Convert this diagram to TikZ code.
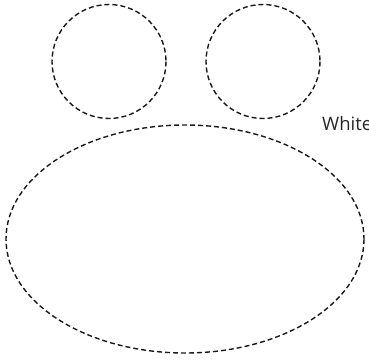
\documentclass[tikz,border=0pt]{standalone}
\usepackage{fontspec}
\setmainfont{Open Sans}
\usetikzlibrary{positioning}

\begin{document}
\begin{tikzpicture}[x=1pt, y=-1pt]
  % outline style
  \tikzset{dashline/.style={draw=black!90, line width=1.4pt, dash pattern=on 5pt off 3pt}}
  \useasboundingbox (0,0) rectangle (369,361);

  \draw[dashline] (109,61.5) circle (57);
  \draw[dashline] (263,61.5) circle (57);
  \draw[dashline] (185,239) ellipse (179 and 114);
  \node[anchor=base west, inner sep=0pt, font=\fontsize{18.5}{21}\selectfont, text=black!85] (white) at (322,130) {White};
\end{tikzpicture}
\end{document}
